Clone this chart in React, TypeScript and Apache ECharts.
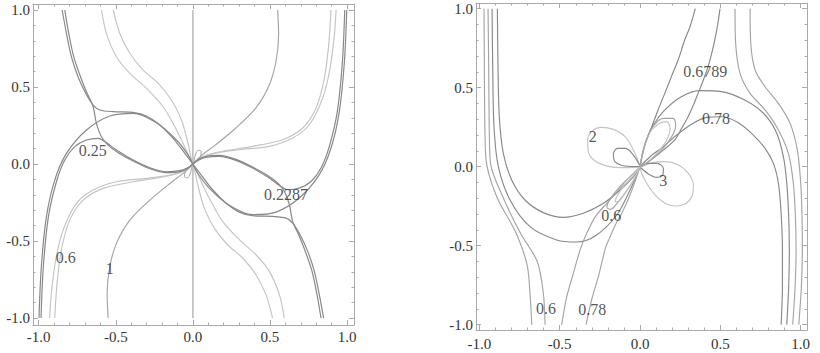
import React, { useEffect, useRef } from 'react';
import * as echarts from 'echarts';

type P = [number, number];

// ---------- axis ticks ----------
const majorTicks = [-1, -0.5, 0, 0.5, 1];
const minorTicks = [-1, -0.9, -0.8, -0.7, -0.6, -0.5, -0.4, -0.3, -0.2, -0.1, 0, 0.1, 0.2, 0.3, 0.4, 0.5, 0.6, 0.7, 0.8, 0.9, 1];

// ---------- left panel curves ----------
const leftLensArc: P[] = [[-0.998, -1.0], [-0.983, -0.667], [-0.95, -0.342], [-0.896, -0.104], [-0.82, 0.069], [-0.69, 0.221], [-0.539, 0.312], [-0.387, 0.329], [-0.236, 0.268], [-0.106, 0.156], [-0.03, 0.058], [0, 0], [0.03, -0.058], [0.106, -0.156], [0.236, -0.268], [0.387, -0.329], [0.539, -0.312], [0.69, -0.221], [0.82, -0.069], [0.896, 0.104], [0.95, 0.342], [0.983, 0.667], [0.998, 1.0]];
const leftC025: P[] = [[-0.985, -1.0], [-0.97, -0.667], [-0.937, -0.342], [-0.885, -0.115], [-0.831, 0.026], [-0.766, 0.113], [-0.69, 0.156], [-0.615, 0.167], [-0.561, 0.139], [-0.496, 0.091], [-0.387, 0.026], [-0.279, -0.024], [-0.171, -0.05], [-0.084, -0.043], [-0.03, -0.022], [0, 0], [0.03, 0.022], [0.084, 0.043], [0.171, 0.05], [0.279, 0.024], [0.387, -0.026], [0.496, -0.091], [0.561, -0.139], [0.615, -0.167], [0.69, -0.156], [0.766, -0.113], [0.831, -0.026], [0.885, 0.115], [0.937, 0.342], [0.97, 0.667], [0.985, 1.0]];
const leftPlateau: P[] = [[-0.848, 1.0], [-0.82, 0.848], [-0.788, 0.697], [-0.745, 0.567], [-0.695, 0.459], [-0.647, 0.383], [-0.604, 0.351], [-0.517, 0.34], [-0.387, 0.335], [-0.301, 0.312], [-0.214, 0.253], [-0.128, 0.167], [-0.052, 0.069], [0, 0], [0.052, -0.069], [0.128, -0.167], [0.214, -0.253], [0.301, -0.312], [0.387, -0.335], [0.517, -0.34], [0.604, -0.351], [0.647, -0.383], [0.695, -0.459], [0.745, -0.567], [0.788, -0.697], [0.82, -0.848], [0.848, -1.0]];
const leftC2287: P[] = [[-0.831, 1.0], [-0.805, 0.848], [-0.773, 0.697], [-0.729, 0.567], [-0.686, 0.459], [-0.647, 0.372], [-0.626, 0.264], [-0.593, 0.177], [-0.55, 0.123], [-0.485, 0.074], [-0.387, 0.02], [-0.279, -0.03], [-0.171, -0.056], [-0.084, -0.049], [-0.03, -0.026], [0, 0], [0.03, 0.026], [0.084, 0.049], [0.171, 0.056], [0.279, 0.03], [0.387, -0.02], [0.485, -0.074], [0.55, -0.123], [0.593, -0.177], [0.626, -0.264], [0.647, -0.372], [0.686, -0.459], [0.729, -0.567], [0.773, -0.697], [0.805, -0.848], [0.831, -1.0]];
const leftLightA: P[] = [[-0.593, 1.0], [-0.561, 0.848], [-0.496, 0.697], [-0.409, 0.589], [-0.301, 0.491], [-0.193, 0.372], [-0.117, 0.242], [-0.063, 0.134], [-0.024, 0.048], [0, 0], [0.024, -0.048], [0.063, -0.134], [0.117, -0.242], [0.193, -0.372], [0.301, -0.491], [0.409, -0.589], [0.496, -0.697], [0.561, -0.848], [0.593, -1.0]];
const leftLightB: P[] = [[-0.517, 1.0], [-0.474, 0.848], [-0.409, 0.719], [-0.323, 0.61], [-0.225, 0.524], [-0.139, 0.416], [-0.074, 0.286], [-0.037, 0.156], [-0.015, 0.058], [0, 0], [0.015, -0.058], [0.037, -0.156], [0.074, -0.286], [0.139, -0.416], [0.225, -0.524], [0.323, -0.61], [0.409, -0.719], [0.474, -0.848], [0.517, -1.0]];
const leftC06a: P[] = [[-0.929, -1.0], [-0.918, -0.84], [-0.89, -0.623], [-0.842, -0.429], [-0.755, -0.255], [-0.647, -0.169], [-0.496, -0.115], [-0.301, -0.093], [-0.149, -0.071], [-0.041, -0.039], [0, 0], [0.041, 0.039], [0.149, 0.071], [0.301, 0.093], [0.496, 0.115], [0.647, 0.169], [0.755, 0.255], [0.842, 0.429], [0.89, 0.623], [0.918, 0.84], [0.929, 1.0]];
const leftC06b: P[] = [[-0.896, -1.0], [-0.881, -0.775], [-0.853, -0.558], [-0.799, -0.364], [-0.712, -0.234], [-0.582, -0.158], [-0.387, -0.115], [-0.214, -0.087], [-0.084, -0.056], [0, 0], [0.084, 0.056], [0.214, 0.087], [0.387, 0.115], [0.582, 0.158], [0.712, 0.234], [0.799, 0.364], [0.853, 0.558], [0.881, 0.775], [0.896, 1.0]];
const leftC1: P[] = [[-0.55, -1.0], [-0.556, -0.84], [-0.539, -0.667], [-0.496, -0.515], [-0.409, -0.364], [-0.279, -0.234], [-0.149, -0.126], [-0.063, -0.061], [0, 0], [0.063, 0.061], [0.149, 0.126], [0.279, 0.234], [0.409, 0.364], [0.496, 0.515], [0.539, 0.667], [0.556, 0.84], [0.55, 1.0]];
const leftAxisLine: P[] = [[0, -1.0], [0, 1.0]];
const leftLoopUp: P[] = [[0.005, 0.01], [0.018, 0.065], [0.036, 0.09], [0.054, 0.082], [0.05, 0.05], [0.025, 0.02], [0.005, 0.01]];
const leftLoopDown: P[] = [[-0.005, -0.01], [-0.018, -0.065], [-0.036, -0.09], [-0.054, -0.082], [-0.05, -0.05], [-0.025, -0.02], [-0.005, -0.01]];

const leftLabels = [
  { text: '0.25', x: -0.649, y: 0.091 },
  { text: '0.2287', x: 0.604, y: -0.195 },
  { text: '0.6', x: -0.825, y: -0.61 },
  { text: '1', x: -0.539, y: -0.675 },
];

// ---------- right panel curves ----------
const right06a: P[] = [[-0.971, 1.0], [-0.969, 0.633], [-0.965, 0.211], [-0.954, 0.011], [-0.888, -0.2], [-0.776, -0.411], [-0.703, -0.622], [-0.683, -0.833], [-0.674, -1.0]];
const right06b: P[] = [[-0.946, 1.0], [-0.942, 0.633], [-0.938, 0.211], [-0.929, 0.011], [-0.85, -0.2], [-0.745, -0.42], [-0.64, -0.6], [-0.602, -0.8], [-0.591, -1.0]];
const rightLowU: P[] = [[-0.921, 1.0], [-0.917, 0.633], [-0.909, 0.253], [-0.882, 0.0], [-0.809, -0.211], [-0.685, -0.38], [-0.519, -0.464], [-0.394, -0.477], [-0.27, -0.432], [-0.145, -0.306], [-0.062, -0.148], [-0.021, -0.053], [0, 0]];
const rightHighU: P[] = [[-0.888, 1.0], [-0.884, 0.633], [-0.876, 0.316], [-0.851, 0.084], [-0.799, -0.084], [-0.716, -0.211], [-0.602, -0.291], [-0.477, -0.321], [-0.353, -0.295], [-0.228, -0.232], [-0.124, -0.148], [-0.041, -0.063], [0, 0]];
const right078a: P[] = [[0, 0], [-0.041, -0.063], [-0.124, -0.137], [-0.207, -0.232], [-0.278, -0.316], [-0.332, -0.422], [-0.373, -0.527], [-0.415, -0.675], [-0.456, -0.823], [-0.488, -1.0]];
const right078b: P[] = [[0, 0], [-0.031, -0.095], [-0.071, -0.2], [-0.114, -0.295], [-0.154, -0.369], [-0.191, -0.454], [-0.216, -0.517], [-0.257, -0.686], [-0.299, -0.833], [-0.336, -1.0]];
const right6789a: P[] = [[0.344, 1.0], [0.311, 0.886], [0.278, 0.802], [0.237, 0.675], [0.195, 0.57], [0.154, 0.464], [0.112, 0.359], [0.073, 0.253], [0.039, 0.169], [0.017, 0.084], [0, 0]];
const right6789b: P[] = [[0.498, 1.0], [0.481, 0.886], [0.465, 0.802], [0.446, 0.717], [0.423, 0.633], [0.394, 0.549], [0.361, 0.464], [0.332, 0.39], [0.299, 0.316], [0.259, 0.243], [0.216, 0.169], [0.145, 0.105], [0.073, 0.046], [0, 0]];
const rightBigArc: P[] = [[0, 0], [0.015, 0.084], [0.041, 0.169], [0.083, 0.264], [0.154, 0.359], [0.257, 0.443], [0.371, 0.481], [0.506, 0.475], [0.651, 0.422], [0.768, 0.338], [0.846, 0.222], [0.892, 0.063], [0.913, -0.105], [0.925, -0.316], [0.929, -0.527], [0.925, -0.759], [0.913, -1.0]];
const right078Arc: P[] = [[0, 0], [0.062, 0.063], [0.145, 0.127], [0.228, 0.2], [0.322, 0.27], [0.415, 0.312], [0.508, 0.316], [0.612, 0.278], [0.705, 0.2], [0.778, 0.116], [0.83, 0.021], [0.861, -0.105], [0.878, -0.295], [0.886, -0.527], [0.886, -0.759], [0.878, -1.0]];
const rightOuter1: P[] = [[0.591, 1.0], [0.595, 0.781], [0.622, 0.591], [0.685, 0.464], [0.778, 0.359], [0.861, 0.232], [0.923, 0.084], [0.954, -0.105], [0.967, -0.316], [0.971, -0.527], [0.965, -0.759], [0.95, -1.0]];
const rightOuter2: P[] = [[0.685, 1.0], [0.689, 0.781], [0.716, 0.612], [0.778, 0.506], [0.861, 0.401], [0.934, 0.274], [0.979, 0.105], [1.0, -0.105], [1.008, -0.316], [1.01, -0.527], [1.004, -0.759], [0.988, -1.0]];
const rightPetal2: P[] = [[0, 0.004], [-0.041, 0.105], [-0.093, 0.19], [-0.166, 0.236], [-0.239, 0.249], [-0.295, 0.228], [-0.326, 0.169], [-0.322, 0.095], [-0.28, 0.036], [-0.187, 0.0], [-0.083, -0.006], [0, 0]];
const rightPetalL: P[] = [[0, 0.004], [-0.046, 0.08], [-0.093, 0.116], [-0.141, 0.116], [-0.166, 0.08], [-0.156, 0.032], [-0.093, 0.004], [0, 0]];
const rightPetal3: P[] = [[0, -0.006], [0.073, 0.025], [0.156, 0.032], [0.239, 0.011], [0.301, -0.042], [0.332, -0.116], [0.322, -0.19], [0.28, -0.236], [0.218, -0.249], [0.156, -0.232], [0.093, -0.179], [0.041, -0.105], [0.01, -0.042], [0, -0.006]];
const rightPetalR: P[] = [[0, -0.004], [0.052, 0.021], [0.108, 0.021], [0.145, -0.011], [0.141, -0.053], [0.104, -0.068], [0.052, -0.046], [0, -0.004]];
const rightPetalUR1: P[] = [[0, 0], [0.021, 0.105], [0.058, 0.211], [0.114, 0.27], [0.166, 0.285], [0.187, 0.243], [0.166, 0.169], [0.104, 0.084], [0.041, 0.025], [0, 0]];
const rightPetalUR2: P[] = [[0, 0], [0.025, 0.127], [0.073, 0.243], [0.145, 0.306], [0.207, 0.306], [0.222, 0.264], [0.197, 0.19], [0.124, 0.095], [0.046, 0.025], [0, 0]];
const rightPetalLL1: P[] = [[0, 0], [-0.062, -0.063], [-0.135, -0.137], [-0.187, -0.207], [-0.207, -0.257], [-0.183, -0.27], [-0.135, -0.222], [-0.073, -0.137], [-0.021, -0.053], [0, 0]];
const rightPetalLL2: P[] = [[0, 0], [-0.046, -0.059], [-0.104, -0.127], [-0.145, -0.19], [-0.156, -0.222], [-0.129, -0.217], [-0.087, -0.158], [-0.041, -0.084], [0, 0]];

const rightLabels = [
  { text: '0.6789', x: 0.405, y: 0.605 },
  { text: '0.78', x: 0.473, y: 0.302 },
  { text: '2', x: -0.295, y: 0.19 },
  { text: '3', x: 0.145, y: -0.089 },
  { text: '0.6', x: -0.18, y: -0.312 },
  { text: '0.6', x: -0.585, y: -0.897 },
  { text: '0.78', x: -0.297, y: -0.907 },
];

// ---------- styling ----------
const FONT = "'Liberation Serif', 'DejaVu Serif', serif";
const FRAME = '#a9a9a9';
const DARK = '#888888';
const MID = '#a4a4a4';
const LIGHT = '#c4c4c4';

function frameAxes(grid: number, min: number, max: number, sides: [string, string], margin: number) {
  const base = { gridIndex: grid, type: 'value', min, max, splitLine: { show: false }, silent: true };
  const line = { show: true, onZero: false, lineStyle: { color: FRAME, width: 1 } };
  const noLine = { show: false, onZero: false };
  const major = { show: true, inside: true, length: 5, customValues: majorTicks, lineStyle: { color: FRAME } };
  const minor = { show: true, inside: true, length: 2.5, customValues: minorTicks, lineStyle: { color: FRAME } };
  return [
    {
      ...base, position: sides[0], axisLine: line, axisTick: major,
      axisLabel: { show: true, customValues: majorTicks, formatter: (v: number) => v.toFixed(1), margin, color: '#333', fontFamily: FONT, fontSize: 15 },
    },
    { ...base, position: sides[0], axisLine: noLine, axisTick: minor, axisLabel: { show: false } },
    { ...base, position: sides[1], axisLine: line, axisTick: major, axisLabel: { show: false } },
    { ...base, position: sides[1], axisLine: noLine, axisTick: minor, axisLabel: { show: false } },
  ];
}

function curve(data: P[], axis: number, color: string, width = 1.15) {
  return {
    type: 'line', xAxisIndex: axis, yAxisIndex: axis, data, smooth: 0.3, symbol: 'none', silent: true,
    lineStyle: { color, width }, clip: true,
  };
}

function labels(items: { text: string; x: number; y: number }[], axis: number) {
  return {
    type: 'scatter', xAxisIndex: axis, yAxisIndex: axis, symbolSize: 1, silent: true,
    itemStyle: { color: 'rgba(0,0,0,0)' },
    data: items.map((d) => ({ name: d.text, value: [d.x, d.y] })),
    label: { show: true, position: 'inside', formatter: '{b}', color: '#2a2a2a', fontFamily: FONT, fontSize: 16 },
    z: 10,
  };
}

function buildOption() {
  return {
    animation: false,
    backgroundColor: '#ffffff',
    grid: [
      { left: 33, top: 4, width: 321, height: 321 },
      { left: 476, top: 3, width: 331, height: 327 },
    ],
    xAxis: [
      ...frameAxes(0, -1.037, 1.045, ['bottom', 'top'], 4),
      ...frameAxes(1, -1.021, 1.039, ['bottom', 'top'], 6),
    ],
    yAxis: [
      ...frameAxes(0, -1.045, 1.039, ['left', 'right'], 3),
      ...frameAxes(1, -1.034, 1.036, ['left', 'right'], 3),
    ],
    series: [
      curve(leftAxisLine, 0, '#bdbdbd', 1.6),
      curve(leftLightA, 0, LIGHT),
      curve(leftLightB, 0, LIGHT),
      curve(leftC06a, 0, LIGHT),
      curve(leftC06b, 0, LIGHT),
      curve(leftC1, 0, MID),
      curve(leftLoopUp, 0, MID, 1),
      curve(leftLoopDown, 0, MID, 1),
      curve(leftLensArc, 0, DARK, 1.2),
      curve(leftC025, 0, DARK, 1.2),
      curve(leftPlateau, 0, DARK, 1.2),
      curve(leftC2287, 0, DARK, 1.2),
      labels(leftLabels, 0),

      curve(right06a, 4, MID),
      curve(right06b, 4, MID),
      curve(rightLowU, 4, DARK),
      curve(rightHighU, 4, DARK),
      curve(right078a, 4, MID),
      curve(right078b, 4, MID),
      curve(right6789a, 4, DARK),
      curve(right6789b, 4, DARK),
      curve(rightBigArc, 4, DARK),
      curve(right078Arc, 4, DARK),
      curve(rightOuter1, 4, MID),
      curve(rightOuter2, 4, MID),
      curve(rightPetal2, 4, LIGHT),
      curve(rightPetalL, 4, DARK),
      curve(rightPetal3, 4, LIGHT),
      curve(rightPetalR, 4, DARK),
      curve(rightPetalUR1, 4, LIGHT),
      curve(rightPetalUR2, 4, MID),
      curve(rightPetalLL1, 4, MID),
      curve(rightPetalLL2, 4, LIGHT),
      labels(rightLabels, 4),
    ],
  };
}

export default function App() {
  const ref = useRef<HTMLDivElement>(null);
  useEffect(() => {
    document.body.style.margin = '0';
    const chart = echarts.init(ref.current as HTMLDivElement, undefined, { renderer: 'svg' });
    chart.setOption(buildOption() as any);
    return () => chart.dispose();
  }, []);
  return <div ref={ref} style={{ width: 820, height: 353, background: '#fff' }} />;
}
